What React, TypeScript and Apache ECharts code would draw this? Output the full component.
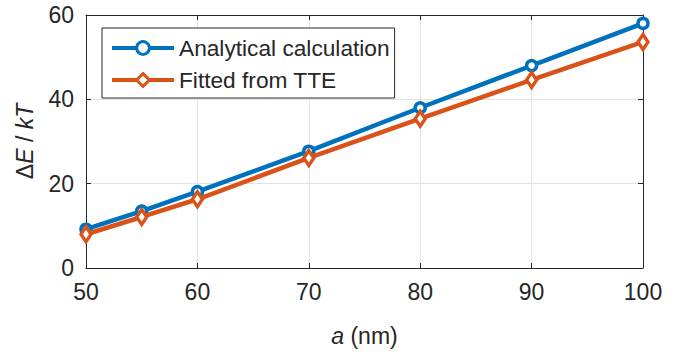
import React, { useEffect, useRef } from "react";
import * as echarts from "echarts";

const aValues = [50, 55, 60, 70, 80, 90, 100];
const analytical = [9.2, 13.5, 18.1, 27.7, 38.0, 48.0, 58.0];
const fitted = [8.0, 12.1, 16.3, 26.1, 35.4, 44.6, 53.6];
const seriesNames = ["Analytical calculation", "Fitted from TTE"];

const FONT = "'Liberation Sans', Arial, Helvetica, sans-serif";
const AX = "#262626";
const BLUE = "#0072BD";
const ORANGE = "#D95319";

export default function App() {
  const ref = useRef<HTMLDivElement>(null);
  useEffect(() => {
    if (!ref.current) return;
    const chart = echarts.init(ref.current, undefined, { renderer: "svg" });
    chart.setOption({
      animation: false,
      backgroundColor: "#ffffff",
      grid: { left: 86, right: 46, top: 15, bottom: 83, containLabel: false },
      legend: {
        left: 102,
        top: 28,
        orient: "vertical",
        data: seriesNames,
        itemWidth: 62,
        itemHeight: 16,
        itemGap: 6,
        padding: [7, 5, 5, 8],
        borderColor: AX,
        borderWidth: 1,
        borderRadius: 0,
        backgroundColor: "#ffffff",
        lineStyle: { width: 4 },
        itemStyle: { borderWidth: 3 },
        textStyle: { fontSize: 22.7, fontFamily: FONT, color: AX, lineHeight: 26 },
      },
      xAxis: [
        {
          type: "value",
          min: 50,
          max: 100,
          interval: 10,
          position: "bottom",
          axisLine: { show: true, onZero: false, lineStyle: { color: AX, width: 1 } },
          axisTick: { show: true, inside: true, length: 5, lineStyle: { color: AX } },
          axisLabel: { fontSize: 23, fontFamily: FONT, color: AX, margin: 12 },
          splitLine: { show: true, lineStyle: { color: "#e3e3e3", width: 1 } },
          name: "{i|a} (nm)",
          nameLocation: "middle",
          nameGap: 56,
          nameTextStyle: {
            fontSize: 23,
            fontFamily: FONT,
            color: AX,
            rich: { i: { fontSize: 23, fontFamily: FONT, fontStyle: "italic", color: AX } },
          },
        },
        {
          type: "value",
          min: 50,
          max: 100,
          interval: 10,
          position: "top",
          axisLine: { show: true, onZero: false, lineStyle: { color: AX, width: 1 } },
          axisTick: { show: true, inside: true, length: 5, lineStyle: { color: AX } },
          axisLabel: { show: false },
          splitLine: { show: false },
        },
      ],
      yAxis: [
        {
          type: "value",
          min: 0,
          max: 60,
          interval: 20,
          position: "left",
          axisLine: { show: true, onZero: false, lineStyle: { color: AX, width: 1 } },
          axisTick: { show: true, inside: true, length: 5, lineStyle: { color: AX } },
          axisLabel: { fontSize: 23, fontFamily: FONT, color: AX, margin: 12 },
          splitLine: { show: true, lineStyle: { color: "#e3e3e3", width: 1 } },
          name: "{d|Δ}{i|E} / {i|kT}",
          nameLocation: "middle",
          nameGap: 50,
          nameRotate: 90,
          nameTextStyle: {
            fontSize: 23,
            fontFamily: FONT,
            color: AX,
            rich: {
              d: { fontSize: 23, fontFamily: FONT, color: AX },
              i: { fontSize: 23, fontFamily: FONT, fontStyle: "italic", color: AX },
            },
          },
        },
        {
          type: "value",
          min: 0,
          max: 60,
          interval: 20,
          position: "right",
          axisLine: { show: true, onZero: false, lineStyle: { color: AX, width: 1 } },
          axisTick: { show: true, inside: true, length: 5, lineStyle: { color: AX } },
          axisLabel: { show: false },
          splitLine: { show: false },
        },
      ],
      series: [
        {
          name: seriesNames[0],
          type: "line",
          data: aValues.map((a, i) => [a, analytical[i]]),
          symbol: "circle",
          symbolSize: 10,
          lineStyle: { color: BLUE, width: 4.5 },
          itemStyle: { color: "#ffffff", borderColor: BLUE, borderWidth: 3.5 },
          z: 3,
        },
        {
          name: seriesNames[1],
          type: "line",
          data: aValues.map((a, i) => [a, fitted[i]]),
          symbol: "diamond",
          symbolSize: [10, 15],
          lineStyle: { color: ORANGE, width: 4.5 },
          itemStyle: { color: "#ffffff", borderColor: ORANGE, borderWidth: 3.5 },
          z: 4,
        },
      ],
    });
    return () => chart.dispose();
  }, []);
  return <div ref={ref} style={{ width: 689, height: 352, position: "absolute", left: 0, top: 0 }} />;
}
